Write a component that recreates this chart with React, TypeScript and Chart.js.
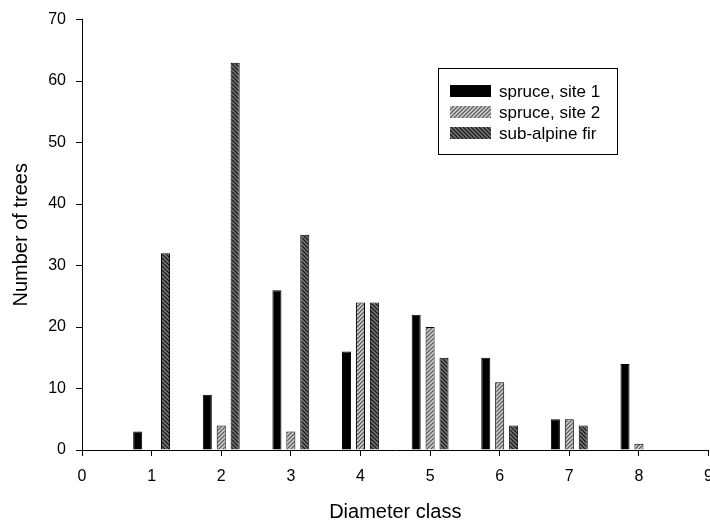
import React, { useEffect, useRef } from "react";
import { Chart, registerables } from "chart.js";

Chart.register(...registerables);

const xLabels = ["0", "1", "2", "3", "4", "5", "6", "7", "8", "9"];
const spruceSite1 = [null, 3, 9, 26, 16, 22, 15, 5, 14, null];
const spruceSite2 = [null, null, 4, 3, 24, 20, 11, 5, 1, null];
const subAlpineFir = [null, 32, 63, 35, 24, 15, 4, 4, null, null];
const seriesNames = ["spruce, site 1", "spruce, site 2", "sub-alpine fir"];
const yMin = 0;
const yMax = 70;
const yStep = 10;

const FONT = "'Liberation Sans', Arial, Helvetica, sans-serif";

function makePattern(bg: string, stroke: string, forward: boolean): CanvasPattern | string {
  const c = document.createElement("canvas");
  c.width = 4;
  c.height = 4;
  const g = c.getContext("2d");
  if (!g) return bg;
  g.fillStyle = bg;
  g.fillRect(0, 0, 4, 4);
  g.strokeStyle = stroke;
  g.lineWidth = 1.3;
  g.beginPath();
  if (forward) {
    g.moveTo(-1, 5); g.lineTo(5, -1);
    g.moveTo(-1, 1); g.lineTo(1, -1);
    g.moveTo(3, 5); g.lineTo(5, 3);
  } else {
    g.moveTo(-1, -1); g.lineTo(5, 5);
    g.moveTo(-1, 3); g.lineTo(1, 5);
    g.moveTo(3, -1); g.lineTo(5, 1);
  }
  g.stroke();
  const p = g.createPattern(c, "repeat");
  return p || bg;
}

export default function App() {
  const ref = useRef<HTMLCanvasElement | null>(null);

  useEffect(() => {
    if (!ref.current) return;
    const fill1 = "#000000";
    const fill2 = makePattern("#d4d4d4", "#5e5e5e", true);
    const fill3 = makePattern("#7a7a7a", "#1a1a1a", false);
    const fills = [fill1, fill2, fill3];

    const legendPlugin = {
      id: "boxLegend",
      afterDraw(chart: any) {
        const ctx = chart.ctx as CanvasRenderingContext2D;
        ctx.save();
        const bx = 438, by = 68, bw = 179, bh = 86;
        ctx.fillStyle = "#ffffff";
        ctx.fillRect(bx, by, bw, bh);
        ctx.strokeStyle = "#000";
        ctx.lineWidth = 1;
        ctx.strokeRect(bx + 0.5, by + 0.5, bw, bh);
        const rows = [91, 112, 133];
        ctx.font = `17px ${FONT}`;
        ctx.textBaseline = "middle";
        ctx.textAlign = "left";
        rows.forEach((cy, i) => {
          ctx.fillStyle = fills[i] as any;
          ctx.fillRect(450, cy - 6, 41, 12);
          ctx.fillStyle = "#000";
          ctx.fillText(seriesNames[i], 499, cy + 1);
        });
        ctx.restore();
      },
    };

    const chart = new Chart(ref.current, {
      type: "bar",
      data: {
        labels: xLabels,
        datasets: [
          { label: seriesNames[0], data: spruceSite1 as any, backgroundColor: fill1, borderColor: "#000", borderWidth: 1 },
          { label: seriesNames[1], data: spruceSite2 as any, backgroundColor: fill2 as any, borderColor: "#000", borderWidth: 1 },
          { label: seriesNames[2], data: subAlpineFir as any, backgroundColor: fill3 as any, borderColor: "#000", borderWidth: 1 },
        ],
      },
      options: {
        responsive: false,
        animation: false,
        devicePixelRatio: 1,
        categoryPercentage: 0.6,
        barPercentage: 0.65,
        layout: { padding: { left: 0, right: 10, top: 13, bottom: 0 } },
        plugins: {
          legend: { display: false },
          tooltip: { enabled: false },
        },
        scales: {
          x: {
            type: "category",
            offset: false,
            grid: { display: true, offset: false, drawOnChartArea: false, drawTicks: true, tickLength: 6, color: "#000" },
            border: { display: true, color: "#000", width: 1 },
            ticks: { color: "#000", font: { family: FONT, size: 16 }, padding: 11, autoSkip: false, maxRotation: 0 },
            title: { display: true, text: "Diameter class", color: "#000", font: { family: FONT, size: 20 }, padding: { top: 0, bottom: 0 } },
            afterFit(scale: any) { scale.height = 74; },
          },
          y: {
            type: "linear",
            min: yMin,
            max: yMax,
            grid: { display: true, drawOnChartArea: false, drawTicks: true, tickLength: 6, color: "#000" },
            border: { display: true, color: "#000", width: 1 },
            ticks: { stepSize: yStep, color: "#000", font: { family: FONT, size: 16 }, padding: 10 },
            title: { display: true, text: "Number of trees", color: "#000", font: { family: FONT, size: 20 }, padding: { top: 9, bottom: 0 } },
            afterFit(scale: any) { scale.width = 82; },
          },
        },
      },
      plugins: [legendPlugin],
    });
    return () => chart.destroy();
  }, []);

  return (
    <div style={{ position: "fixed", left: 0, top: 0, width: 710, height: 524, overflow: "hidden", background: "#fff" }}>
      <canvas ref={ref} width={724} height={524} style={{ display: "block" }} />
    </div>
  );
}
